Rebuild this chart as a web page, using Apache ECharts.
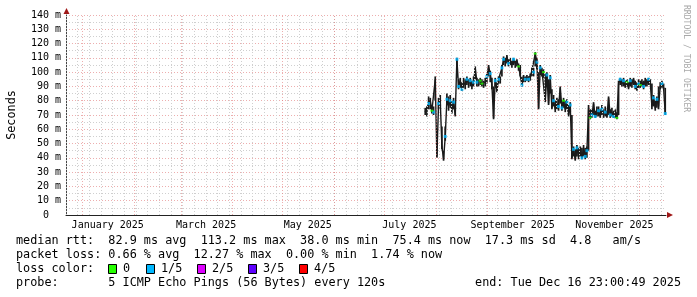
<!DOCTYPE html>
<html><head><meta charset="utf-8">
<script src="https://cdn.jsdelivr.net/npm/echarts@6/dist/echarts.min.js"></script>
<style>html,body{margin:0;padding:0;background:#fff}#c{width:697px;height:297px}</style>
</head><body><div id="c"></div>
<script>
// ---- data ----
const rangeStart = '2024-12-21T23:00:49Z';
const rangeEnd = '2025-12-16T23:00:49Z';
const firstDay = '2025-07-25T12:00:00Z';
// daily median rtt (ms)
const medianRtt = [
  72, 71, 78, 80, 73, 72, 95, 41, 78, 80,
  48, 39, 55, 81, 76, 80, 74, 79, 70, 109,
  90, 94, 88, 93, 91, 95, 92, 94, 90, 93,
  103, 93, 92, 94, 92, 91, 93, 97, 104, 99,
  91, 68, 94, 87, 95, 94, 103, 109, 107, 111,
  106, 108, 105, 109, 106, 108, 104, 103, 91, 96,
  95, 96, 95, 97, 101, 100, 113, 107, 75, 103,
  101, 100, 80, 98, 78, 96, 75, 80, 74, 78,
  76, 89, 75, 80, 74, 79, 70, 77, 40, 46,
  39, 47, 41, 46, 40, 47, 41, 45, 75, 68,
  70, 78, 69, 71, 73, 69, 74, 70, 72, 69,
  82, 70, 72, 69, 71, 68, 92, 95, 92, 94,
  90, 93, 89, 94, 92, 95, 90, 88, 92, 91,
  93, 90, 94, 92, 95, 93, 76, 82, 75, 81,
  76, 90, 92, 89, 71
];
// daily spread of the smoke (lowest / highest rtt, ms)
const smokeLow = [
  70, 69, 74, 74, 71, 70, 80, 40, 74, 76,
  46, 38, 52, 77, 73, 75, 71, 74, 69, 96,
  88, 89, 87, 89, 88, 91, 89, 90, 88, 90,
  95, 90, 90, 91, 90, 89, 90, 92, 97, 93,
  88, 67, 90, 86, 92, 92, 97, 105, 104, 106,
  104, 105, 103, 105, 103, 104, 101, 97, 90, 93,
  93, 94, 93, 94, 97, 97, 104, 102, 74, 98,
  97, 96, 79, 90, 77, 85, 74, 76, 72, 74,
  73, 78, 73, 75, 72, 74, 69, 72, 39, 41,
  38, 41, 39, 41, 39, 41, 39, 40, 45, 67,
  68, 70, 68, 69, 69, 68, 70, 68, 69, 68,
  70, 68, 69, 68, 68, 67, 70, 91, 90, 90,
  89, 90, 88, 90, 89, 91, 88, 87, 89, 89,
  90, 88, 90, 90, 91, 90, 74, 76, 73, 75,
  74, 88, 89, 88, 70
];
const smokeHigh = [
  75, 76, 83, 82, 76, 76, 97, 60, 82, 84,
  62, 45, 62, 85, 83, 84, 80, 82, 76, 110,
  95, 96, 93, 96, 95, 97, 95, 96, 94, 97,
  104, 96, 95, 96, 95, 94, 96, 99, 105, 101,
  96, 90, 96, 93, 97, 97, 105, 111, 110, 112,
  109, 110, 108, 110, 108, 109, 106, 105, 97, 98,
  97, 98, 97, 99, 103, 103, 114, 110, 100, 105,
  103, 102, 99, 100, 95, 98, 88, 84, 80, 82,
  81, 90, 80, 82, 80, 81, 77, 79, 70, 48,
  46, 49, 47, 48, 47, 49, 47, 48, 77, 74,
  74, 79, 73, 76, 76, 74, 77, 74, 76, 73,
  83, 74, 75, 73, 74, 72, 94, 96, 95, 96,
  94, 95, 93, 96, 95, 96, 94, 93, 95, 94,
  95, 94, 96, 95, 96, 95, 92, 84, 80, 83,
  90, 93, 94, 92, 89
];
// days (index into medianRtt) where 1/5 loss is visible
const lossOneFifthDays = [2, 5, 8, 12, 13, 15, 17, 19, 20, 22, 25, 27, 29, 31, 37, 39, 42, 44, 46, 47,
  50, 53, 58, 60, 62, 65, 67, 69, 73, 75, 77, 80, 82, 85, 87, 89, 91, 94, 96, 97,
  100, 102, 104, 106, 108, 111, 113, 117, 119, 123, 126, 128, 131, 134, 137, 139, 142, 144];
// days where 0 loss is visible
const lossZeroDays = [4, 33, 34, 56, 66, 71, 83, 99, 115, 121, 129];
const monthStarts = ['2025-01-01','2025-02-01','2025-03-01','2025-04-01','2025-05-01','2025-06-01',
  '2025-07-01','2025-08-01','2025-09-01','2025-10-01','2025-11-01','2025-12-01'];
const labelDates = ['2025-01-16','2025-03-16','2025-05-16','2025-07-16','2025-09-16','2025-11-16'];
const labelTexts = ['January 2025','March 2025','May 2025','July 2025','September 2025','November 2025'];
const lossColors = ['#26ff00', '#00b8ff', '#dd00ff', '#5e00ff', '#ff0000'];
const lossNames = ['0', '1/5', '2/5', '3/5', '4/5'];

// ---- build ----
const DAY = 86400000;
const t0 = Date.parse(firstDay);
const medianData = medianRtt.map((v, i) => [t0 + i * DAY, v]);
const smokeData = smokeLow.map((lo, i) => [t0 + i * DAY, lo, smokeHigh[i]]);
const cyanData = lossOneFifthDays.map(i => [t0 + i * DAY, medianRtt[i]]);
const greenData = lossZeroDays.map(i => [t0 + i * DAY, medianRtt[i]]);
const labelVals = labelDates.map(d => Date.parse(d + 'T00:00:00Z'));
const weekLines = [];
for (let t = Date.parse('2024-12-22T00:00:00Z'); t < Date.parse(rangeEnd); t += 7 * DAY) weekLines.push({xAxis: t});
const monthLines = monthStarts.map(d => ({xAxis: Date.parse(d + 'T00:00:00Z')}));

const MONO = '"DejaVu Sans Mono", monospace';
const FS = '11.8px ';
const chart = echarts.init(document.getElementById('c'), null, {renderer: 'canvas'});

const legendY = [241, 255, 269, 283];
const graphics = [
  {type: 'text', x: 686, y: 5, rotation: -Math.PI / 2, style: {text: 'RRDTOOL / TOBI OETIKER', font: '8.1px ' + MONO, fill: '#a8a8a8', align: 'left', verticalAlign: 'middle'}},
  {type: 'polygon', shape: {points: [[66.5, 8], [63.5, 14], [69.5, 14]]}, style: {fill: '#a01818'}},
  {type: 'polygon', shape: {points: [[673, 215], [667, 212], [667, 218]]}, style: {fill: '#a01818'}},
  {type: 'text', x: 16, y: legendY[0], style: {text: 'median rtt:  82.9 ms avg  113.2 ms max  38.0 ms min  75.4 ms now  17.3 ms sd  4.8   am/s', font: FS + MONO, fill: '#000', verticalAlign: 'middle'}},
  {type: 'text', x: 16, y: legendY[1], style: {text: 'packet loss: 0.66 % avg  12.27 % max  0.00 % min  1.74 % now', font: FS + MONO, fill: '#000', verticalAlign: 'middle'}},
  {type: 'text', x: 16, y: legendY[2], style: {text: 'loss color:', font: FS + MONO, fill: '#000', verticalAlign: 'middle'}},
  {type: 'text', x: 16, y: legendY[3], style: {text: 'probe:       5 ICMP Echo Pings (56 Bytes) every 120s', font: FS + MONO, fill: '#000', verticalAlign: 'middle'}},
  {type: 'text', x: 681, y: legendY[3], style: {text: 'end: Tue Dec 16 23:00:49 2025', font: FS + MONO, fill: '#000', align: 'right', verticalAlign: 'middle'}}
];
const boxX = [108, 146, 197, 248, 299];
lossColors.forEach((c, i) => {
  graphics.push({type: 'rect', shape: {x: boxX[i] + 0.5, y: legendY[2] - 4.5, width: 8, height: 9}, style: {fill: c, stroke: '#000', lineWidth: 1}});
  graphics.push({type: 'text', x: boxX[i] + 15, y: legendY[2], style: {text: lossNames[i], font: FS + MONO, fill: '#000', verticalAlign: 'middle'}});
});

chart.setOption({
  animation: false,
  backgroundColor: '#ffffff',
  grid: {left: 66, top: 15, width: 600, height: 200, containLabel: false, outerBoundsMode: 'none'},
  xAxis: {
    type: 'value', min: Date.parse(rangeStart), max: Date.parse(rangeEnd),
    axisLine: {show: true, lineStyle: {color: '#222', width: 1}},
    axisTick: {show: false}, splitLine: {show: false},
    axisLabel: {
      customValues: labelVals,
      formatter: v => { const k = labelVals.indexOf(v); return k >= 0 ? labelTexts[k] : ''; },
      fontFamily: MONO, fontSize: 10, color: '#000', margin: 5, hideOverlap: false
    }
  },
  yAxis: {
    type: 'value', min: 0, max: 140, interval: 10,
    axisLine: {show: true, lineStyle: {color: '#444', width: 1}},
    axisTick: {show: false},
    axisLabel: {formatter: v => v === 0 ? '0  ' : v + ' m', fontFamily: MONO, fontSize: 10, color: '#000', margin: 5},
    splitLine: {show: true, lineStyle: {color: 'rgba(225,120,120,0.6)', type: [1, 2], width: 1}},
    minorTick: {show: false, splitNumber: 2},
    minorSplitLine: {show: true, lineStyle: {color: '#cfcfcf', type: [1, 2], width: 1}},
    name: 'Seconds', nameLocation: 'middle', nameGap: 48, nameRotate: 90,
    nameTextStyle: {fontFamily: MONO, fontSize: 11.8, color: '#000'}
  },
  series: [
    {type: 'line', z: 1, data: [[t0, null]], symbol: 'none', silent: true,
     markLine: {silent: true, symbol: ['none', 'none'], label: {show: false}, animation: false,
       lineStyle: {color: '#cfcfcf', type: [1, 2], width: 1}, data: weekLines}},
    {type: 'line', z: 1, data: [[t0, null]], symbol: 'none', silent: true,
     markLine: {silent: true, symbol: ['none', 'none'], label: {show: false}, animation: false,
       lineStyle: {color: 'rgba(225,120,120,0.6)', type: [1, 2], width: 1}, data: monthLines}},
    {name: 'smoke', type: 'custom', z: 2, data: smokeData, encode: {x: 0, y: [1, 2]},
     renderItem: (params, api) => {
       const p1 = api.coord([api.value(0), api.value(1)]);
       const p2 = api.coord([api.value(0), api.value(2)]);
       return {type: 'line', shape: {x1: p1[0], y1: p1[1], x2: p2[0], y2: p2[1]},
               style: {stroke: '#1a1a1a', lineWidth: 1.7}};
     }},
    {name: 'median', type: 'line', z: 3, data: medianData, symbol: 'none',
     lineStyle: {color: '#1a1a1a', width: 1.4}},
    {name: '1/5', type: 'scatter', z: 4, data: cyanData, symbol: 'rect', symbolSize: [3, 3],
     itemStyle: {color: lossColors[1]}},
    {name: '0', type: 'scatter', z: 4, data: greenData, symbol: 'rect', symbolSize: [3, 2],
     itemStyle: {color: lossColors[0]}}
  ],
  graphic: graphics
});
</script></body></html>
